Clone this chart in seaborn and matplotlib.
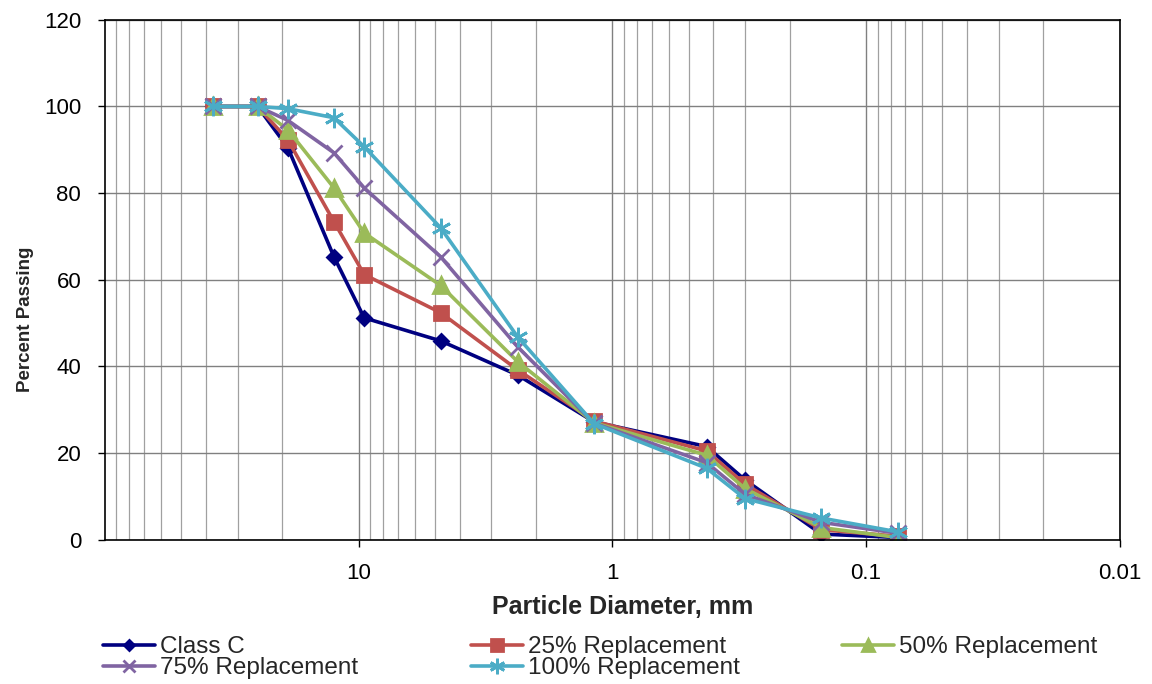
import numpy as np
import pandas as pd
import matplotlib
matplotlib.use("Agg")
import matplotlib.pyplot as plt
from matplotlib.ticker import FixedLocator, LogLocator, NullFormatter
import seaborn as sns

sns.set_theme(style="white")
plt.rcParams['font.family'] = ['Liberation Sans', 'DejaVu Sans']

# sieve sizes, mm
sieve_mm = [37.5, 25, 19, 12.5, 9.5, 4.75, 2.36, 1.18, 0.425, 0.3, 0.15, 0.075]

class_c = [100, 100, 90.5, 65.3, 51.2, 45.9, 38.0, 27.2, 21.5, 13.8, 1.3, 0.5]
rep_25 = [100, 100, 92.3, 73.4, 61.2, 52.4, 39.2, 27.4, 20.5, 12.8, 2.3, 0.8]
rep_50 = [100, 100, 94.6, 81.2, 70.8, 58.7, 41.1, 27.0, 19.5, 11.8, 2.8, 0.5]
rep_75 = [100, 100, 96.8, 89.3, 81.2, 65.3, 44.5, 26.9, 17.8, 10.5, 4.0, 1.5]
rep_100 = [100, 100, 99.5, 97.4, 90.7, 72.0, 46.8, 26.8, 16.5, 9.5, 5.0, 1.8]

series_names = ['Class C', '25% Replacement', '50% Replacement',
                '75% Replacement', '100% Replacement']
series_vals = [class_c, rep_25, rep_50, rep_75, rep_100]
colors = ['#000080', '#C0504D', '#9BBB59', '#8064A2', '#4BACC6']
markers = ['D', 's', '^', 'x', (6, 2, 0)]
marker_sizes = [7, 10, 11, 11, 14]

rows = []
for name, vals in zip(series_names, series_vals):
    for d, p in zip(sieve_mm, vals):
        rows.append({'Diameter': d, 'Passing': p, 'Series': name})
df = pd.DataFrame(rows)

fig = plt.figure(figsize=(11.52, 6.84), dpi=100)
ax = fig.add_axes([0.091, 0.211, 0.881, 0.760])

ax.set_xscale('log')
ax.set_xlim(100, 0.01)
ax.set_ylim(0, 120)
ax.xaxis.set_major_locator(FixedLocator([10, 1, 0.1, 0.01]))
ax.xaxis.set_minor_locator(LogLocator(base=10, subs=np.arange(2, 10)))
ax.xaxis.set_minor_formatter(NullFormatter())
ax.set_xticklabels(['10', '1', '0.1', '0.01'])
ax.set_yticks([0, 20, 40, 60, 80, 100, 120])
ax.grid(which='major', axis='both', color='#808080', linewidth=1.0)
ax.grid(which='minor', axis='x', color='#a0a0a0', linewidth=0.9)
ax.set_axisbelow(True)

for name, vals, c, m, ms in zip(series_names, series_vals, colors, markers, marker_sizes):
    sub = df[df['Series'] == name]
    sns.lineplot(data=sub, x='Diameter', y='Passing', ax=ax, color=c,
                 marker=m, markersize=ms, markeredgecolor=c, markeredgewidth=2,
                 linewidth=2.6, label=name, legend=False, sort=False)

for s in ax.spines.values():
    s.set_color('black')
    s.set_linewidth(1.2)

ax.tick_params(axis='both', which='major', labelsize=16, colors='black',
               length=5, width=1, direction='out', bottom=True, left=True)
ax.tick_params(axis='x', which='minor', length=0)
ax.tick_params(axis='x', pad=12)
ax.tick_params(axis='y', pad=12)
ax.set_xlabel('Particle Diameter, mm', fontsize=18, fontweight='bold')
ax.set_ylabel('Percent Passing', fontsize=13.5, fontweight='bold')
ax.xaxis.set_label_coords(0.510, -0.106)
ax.yaxis.set_label_coords(-0.070, 0.423)

hmap = {h.get_label(): h for h in ax.get_lines() if h.get_label() in series_names}

col_specs = [(['Class C', '75% Replacement'], 0.0894),
             (['25% Replacement', '100% Replacement'], 0.409),
             (['50% Replacement'], 0.731)]
for names, x0 in col_specs:
    fig.legend([hmap[n] for n in names], names, loc='upper left',
               bbox_to_anchor=(x0, 0.070), frameon=False, fontsize=17.5,
               handlelength=2.14, handletextpad=0.2, labelspacing=-0.03,
               borderaxespad=0, borderpad=0, markerscale=0.8)

fig.savefig('out.png', dpi=100)
